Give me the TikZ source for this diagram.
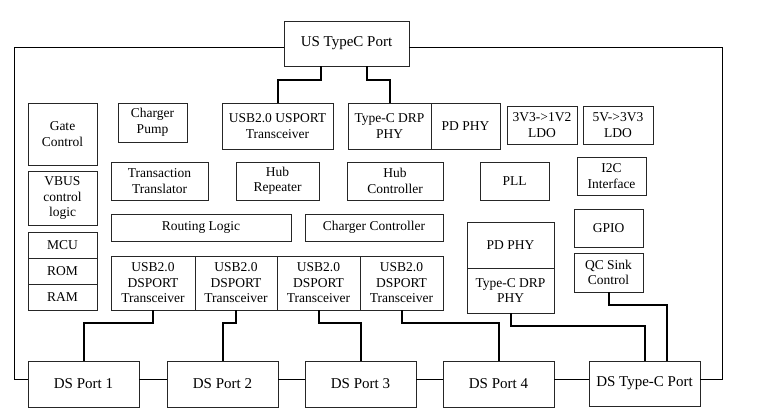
\documentclass[tikz,border=0pt]{standalone}
\usepackage{fontspec}
\setmainfont{Liberation Serif}
\usepackage{tikz}
\usetikzlibrary{positioning,calc}
\tikzset{
  blk/.style={
    draw=black!85,
    line width=0.8pt,
    align=center,
    inner sep=0pt,
    font=\fontsize{13.5}{15.5}\selectfont
  },
  port/.style={
    blk,
    font=\fontsize{15}{17}\selectfont
  },
  bus/.style={line width=2pt},
  link/.style={line width=1pt}
}

\begin{document}
\begin{tikzpicture}[x=1pt,y=-1pt]
  \useasboundingbox (0,0) rectangle (761,417);

  \node[port, minimum width=125, minimum height=45] (us) at (346.5,43.5) {US TypeC Port};

  \node[blk, minimum width=69, minimum height=62] (gate) at (62.5,134) {Gate\\Control};
  \node[blk, minimum width=69, minimum height=39] (pump) at (152.5,122.5) {Charger\\Pump};
  \node[blk, minimum width=111, minimum height=46] (usport) at (277.5,126) {USB2.0 USPORT\\Transceiver};
  \node[blk, minimum width=83, minimum height=46] (drp) at (389.5,126) {Type-C DRP\\PHY};
  \node[blk, minimum width=69, minimum height=46] (pd) at (465.5,126) {PD PHY};
  \node[blk, minimum width=70, minimum height=38] (ldoa) at (542,125) {3V3->1V2\\LDO};
  \node[blk, minimum width=70, minimum height=38] (ldob) at (618,125) {5V->3V3\\LDO};

  \node[blk, minimum width=69, minimum height=54] (vbus) at (62.5,198) {VBUS\\control\\logic};
  \node[blk, minimum width=69, minimum height=26] (mcu) at (62.5,245) {MCU};
  \node[blk, minimum width=69, minimum height=26] (rom) at (62.5,271) {ROM};
  \node[blk, minimum width=69, minimum height=26] (ram) at (62.5,297) {RAM};

  \node[blk, minimum width=97, minimum height=38] (tt) at (159.5,181) {Transaction\\Translator};
  \node[blk, minimum width=83, minimum height=38] (rep) at (277.5,181) {Hub\\Repeater};
  \node[blk, minimum width=96, minimum height=38] (hubc) at (395,181) {Hub\\Controller};
  \node[blk, minimum width=69, minimum height=38] (pll) at (514.5,181) {PLL};
  \node[blk, minimum width=69, minimum height=38] (i2c) at (611.5,176) {I2C\\Interface};

  \node[blk, minimum width=180, minimum height=27] (route) at (201,227.5) {Routing Logic};
  \node[blk, minimum width=138, minimum height=27] (chgc) at (374,227.5) {Charger Controller};
  \node[blk, minimum width=69, minimum height=38] (gpio) at (608.5,228) {GPIO};
  \node[blk, minimum width=69, minimum height=39] (qc) at (608.5,272.5) {QC Sink\\Control};
  \node[blk, minimum width=87, minimum height=46] (pdb) at (510.5,245) {PD PHY};
  \node[blk, minimum width=87, minimum height=45] (drpb) at (510.5,290.5) {Type-C DRP\\PHY};

  \node[blk, minimum width=84, minimum height=54] (ds1) at (153,283) {USB2.0\\DSPORT\\Transceiver};
  \node[blk, minimum width=82, minimum height=54] (ds2) at (236,283) {USB2.0\\DSPORT\\Transceiver};
  \node[blk, minimum width=83, minimum height=54] (ds3) at (318.5,283) {USB2.0\\DSPORT\\Transceiver};
  \node[blk, minimum width=83, minimum height=54] (ds4) at (401.5,283) {USB2.0\\DSPORT\\Transceiver};

  \node[port, minimum width=111, minimum height=46] (p1) at (83.5,384) {DS Port 1};
  \node[port, minimum width=111, minimum height=46] (p2) at (222.5,384) {DS Port 2};
  \node[port, minimum width=111, minimum height=46] (p3) at (360.5,384) {DS Port 3};
  \node[port, minimum width=111, minimum height=46] (p4) at (498.5,384) {DS Port 4};
  \node[port, minimum width=111, minimum height=45] (tcp) at (644.5,383.5) {DS Type-C Port};

  % upstream side
  \draw[bus] ([xshift=-25.5pt]us.south) -- ++(0,14) -| (usport.north);
  \draw[bus] ([xshift=20.5pt]us.south) -- ++(0,14) -| (drp.north);

  % downstream side
  \draw[bus] (ds1.south) -- ++(0,13) -| (p1.north);
  \draw[bus] (ds2.south) -- ++(0,13) -| (p2.north);
  \draw[bus] (ds3.south) -- ++(0,13) -| (p3.north);
  \draw[bus] (ds4.south) -- ++(0,13) -| (p4.north);
  \draw[bus] (drpb.south) -- ++(0,13) -| (tcp.north);
  \draw[bus] (qc.south) -- ++(0,13) -| ([xshift=22.5pt]tcp.north);

  \draw[link] ([yshift=5pt]p1.east) -- ([yshift=5pt]p2.west);
  \draw[link] ([yshift=5pt]p2.east) -- ([yshift=5pt]p3.west);
  \draw[link] ([yshift=5pt]p3.east) -- ([yshift=5pt]p4.west);
  \draw[link] ([yshift=5pt]p4.east) -- ([yshift=4.5pt]tcp.west);

  \draw[link] ([yshift=-4.5pt]us.west) -| (14,379) -- ([yshift=5pt]p1.west);
  \draw[link] ([yshift=-4.5pt]us.east) -| (722,379) -- ([yshift=4.5pt]tcp.east);
\end{tikzpicture}
\end{document}
